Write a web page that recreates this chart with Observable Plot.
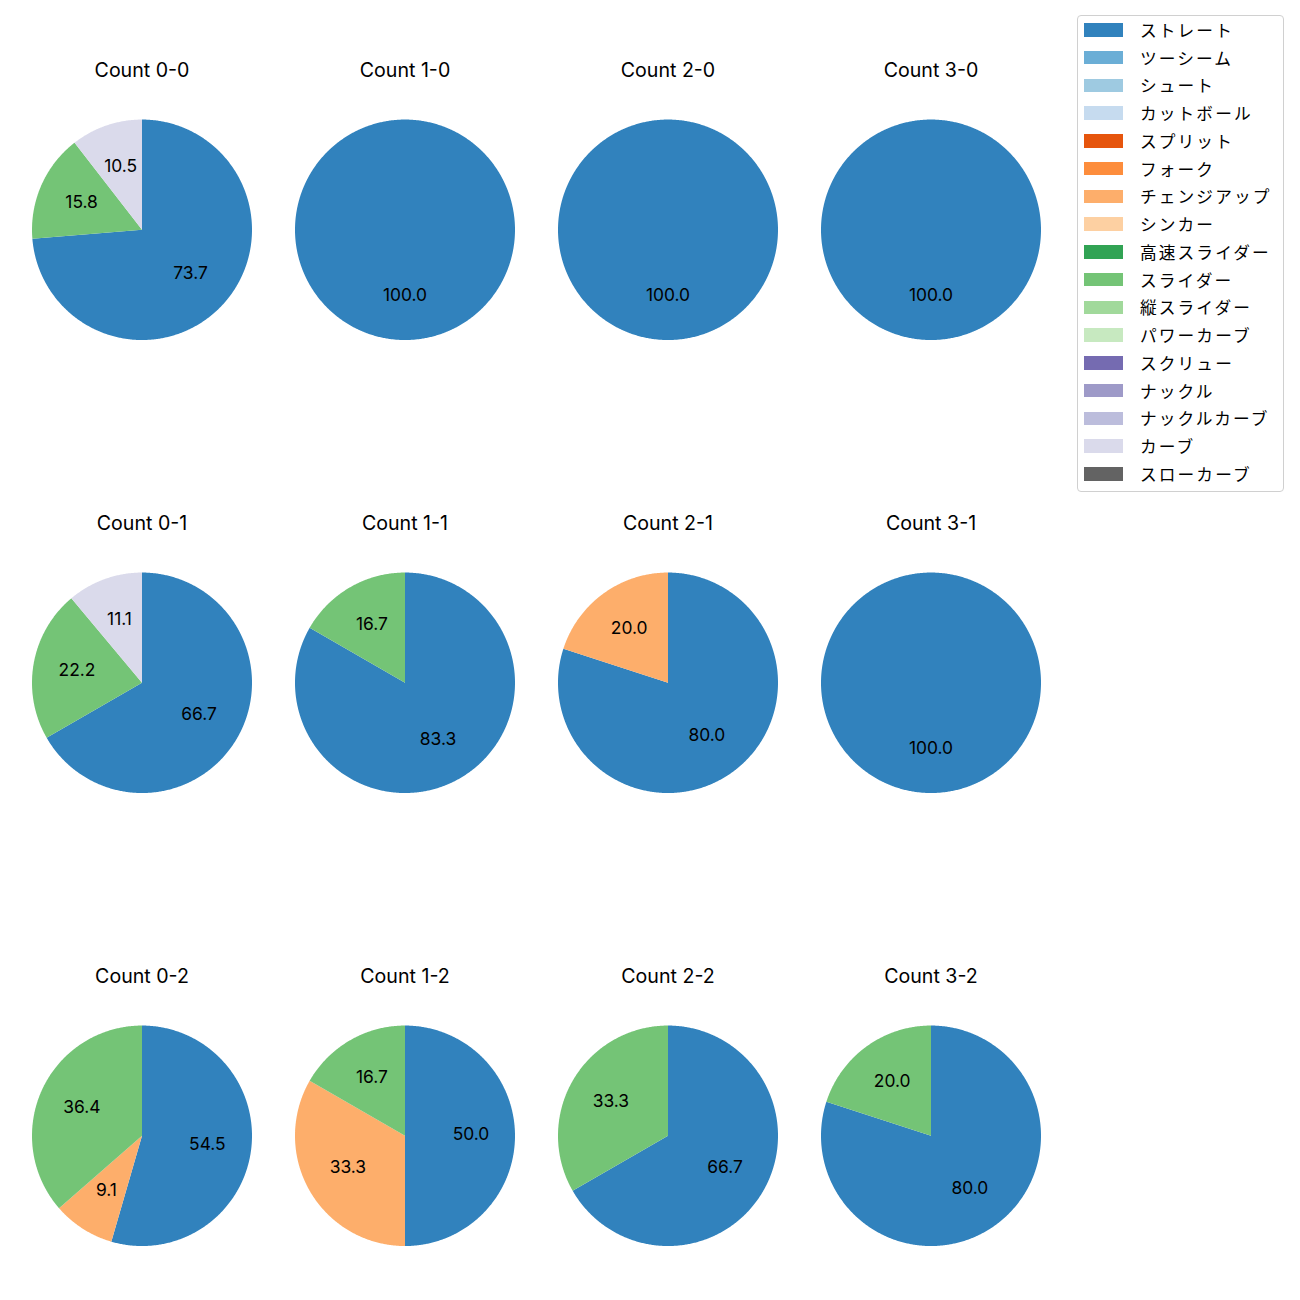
<!DOCTYPE html>
<html>
<head>
<meta charset="utf-8">
<script src="https://cdn.jsdelivr.net/npm/d3@7"></script>
<script src="https://cdn.jsdelivr.net/npm/@observablehq/plot@0.6"></script>
<style>
  body { margin: 0; background: #fff; font-family: "Noto Sans CJK JP", "Noto Sans", sans-serif; }
  #wrap { position: relative; width: 1300px; height: 1300px; }
  #chart { position: absolute; left: 0; top: 0; }
  #legend { position: absolute; left: 1077px; top: 15px; width: 207px; box-sizing: border-box;
            border: 1px solid #d0d0d0; border-radius: 4px; background: #fff; padding: 0 0 3px 0; }
  .row { height: 27.75px; display: flex; align-items: center; }
  .sw { width: 39px; height: 13.5px; margin-left: 6px; margin-right: 17px; flex: none; }
  .lb { font-size: 16.7px; letter-spacing: 2.1px; color: #000; white-space: nowrap; }
</style>
</head>
<body>
<div id="wrap"><div id="chart"></div><div id="legend"></div></div>
<script>
// ---- data ----
const pitchTypes = ["ストレート","ツーシーム","シュート","カットボール","スプリット","フォーク","チェンジアップ","シンカー","高速スライダー","スライダー","縦スライダー","パワーカーブ","スクリュー","ナックル","ナックルカーブ","カーブ","スローカーブ"];
const pitchColors = ["#3182bd","#6baed6","#9ecae1","#c6dbef","#e6550d","#fd8d3c","#fdae6b","#fdd0a2","#31a354","#74c476","#a1d99b","#c7e9c0","#756bb1","#9e9ac8","#bcbddc","#dadaeb","#636363"];
const counts = ["0-0","1-0","2-0","3-0","0-1","1-1","2-1","3-1","0-2","1-2","2-2","3-2"];
const straight = [73.7,100,100,100,66.7,83.3,80.0,100,54.5,50.0,66.7,80.0];
const changeup = [0,0,0,0,0,0,20.0,0,9.1,33.3,0,0];
const slider   = [15.8,0,0,0,22.2,16.7,0,0,36.4,16.7,33.3,20.0];
const curveball= [10.5,0,0,0,11.1,0,0,0,0,0,0,0];
const series = [
  {name: "ストレート", values: straight},
  {name: "チェンジアップ", values: changeup},
  {name: "スライダー", values: slider},
  {name: "カーブ", values: curveball}
];

// ---- build slices via d3.pie ----
const facets = counts.map(c => ({count: c, balls: +c.split("-")[0], strikes: +c.split("-")[1]}));
const points = [], labels = [];
facets.forEach((f, i) => {
  const vals = series.map(s => ({name: s.name, v: s.values[i]})).filter(d => d.v > 0);
  const arcs = d3.pie().sort(null).value(d => d.v)(vals);
  arcs.forEach(a => {
    const key = f.count + "|" + a.data.name;
    const base = {key, name: a.data.name, balls: f.balls, strikes: f.strikes};
    points.push({...base, x: 0, y: 0});
    const n = Math.max(2, Math.ceil((a.endAngle - a.startAngle) / (Math.PI / 360)));
    for (let k = 0; k <= n; k++) {
      const t = a.startAngle + (a.endAngle - a.startAngle) * k / n;
      points.push({...base, x: Math.sin(t), y: Math.cos(t)});
    }
    const mid = (a.startAngle + a.endAngle) / 2;
    labels.push({balls: f.balls, strikes: f.strikes, x: 0.6 * Math.sin(mid), y: 0.6 * Math.cos(mid), text: a.data.v.toFixed(1)});
  });
});

const latin = 'Inter, "Noto Sans CJK JP", sans-serif';
const chart = Plot.plot({
  width: 1062, height: 1300,
  marginLeft: 10, marginRight: 0, marginTop: 100, marginBottom: 67.5,
  fx: {domain: [0,1,2,3], padding: 0, axis: null},
  fy: {domain: [0,1,2], paddingInner: 0.5, paddingOuter: 0, axis: null},
  x: {domain: [-263/220, 263/220], axis: null},
  y: {domain: [-97.5/110, 129/110], axis: null},
  color: {domain: pitchTypes, range: pitchColors},
  style: {fontFamily: latin, background: "transparent", overflow: "visible"},
  marks: [
    Plot.line(points, {x: "x", y: "y", z: "key", fill: "name", stroke: "none", fx: "balls", fy: "strikes"}),
    Plot.text(labels, {x: "x", y: "y", text: "text", fx: "balls", fy: "strikes", fontSize: 17.4, fill: "#000", dy: -1}),
    Plot.text(facets, {text: d => "Count " + d.count, fx: "balls", fy: "strikes", frameAnchor: "top", dy: -37.5, fontSize: 19.6, fill: "#000"})
  ]
});
document.getElementById("chart").appendChild(chart);

// ---- legend ----
const color = chart.scale("color");
const leg = d3.select("#legend");
pitchTypes.forEach(p => {
  const r = leg.append("div").attr("class", "row");
  r.append("div").attr("class", "sw").style("background", color.apply(p));
  r.append("div").attr("class", "lb").text(p);
});
</script>
</body>
</html>
